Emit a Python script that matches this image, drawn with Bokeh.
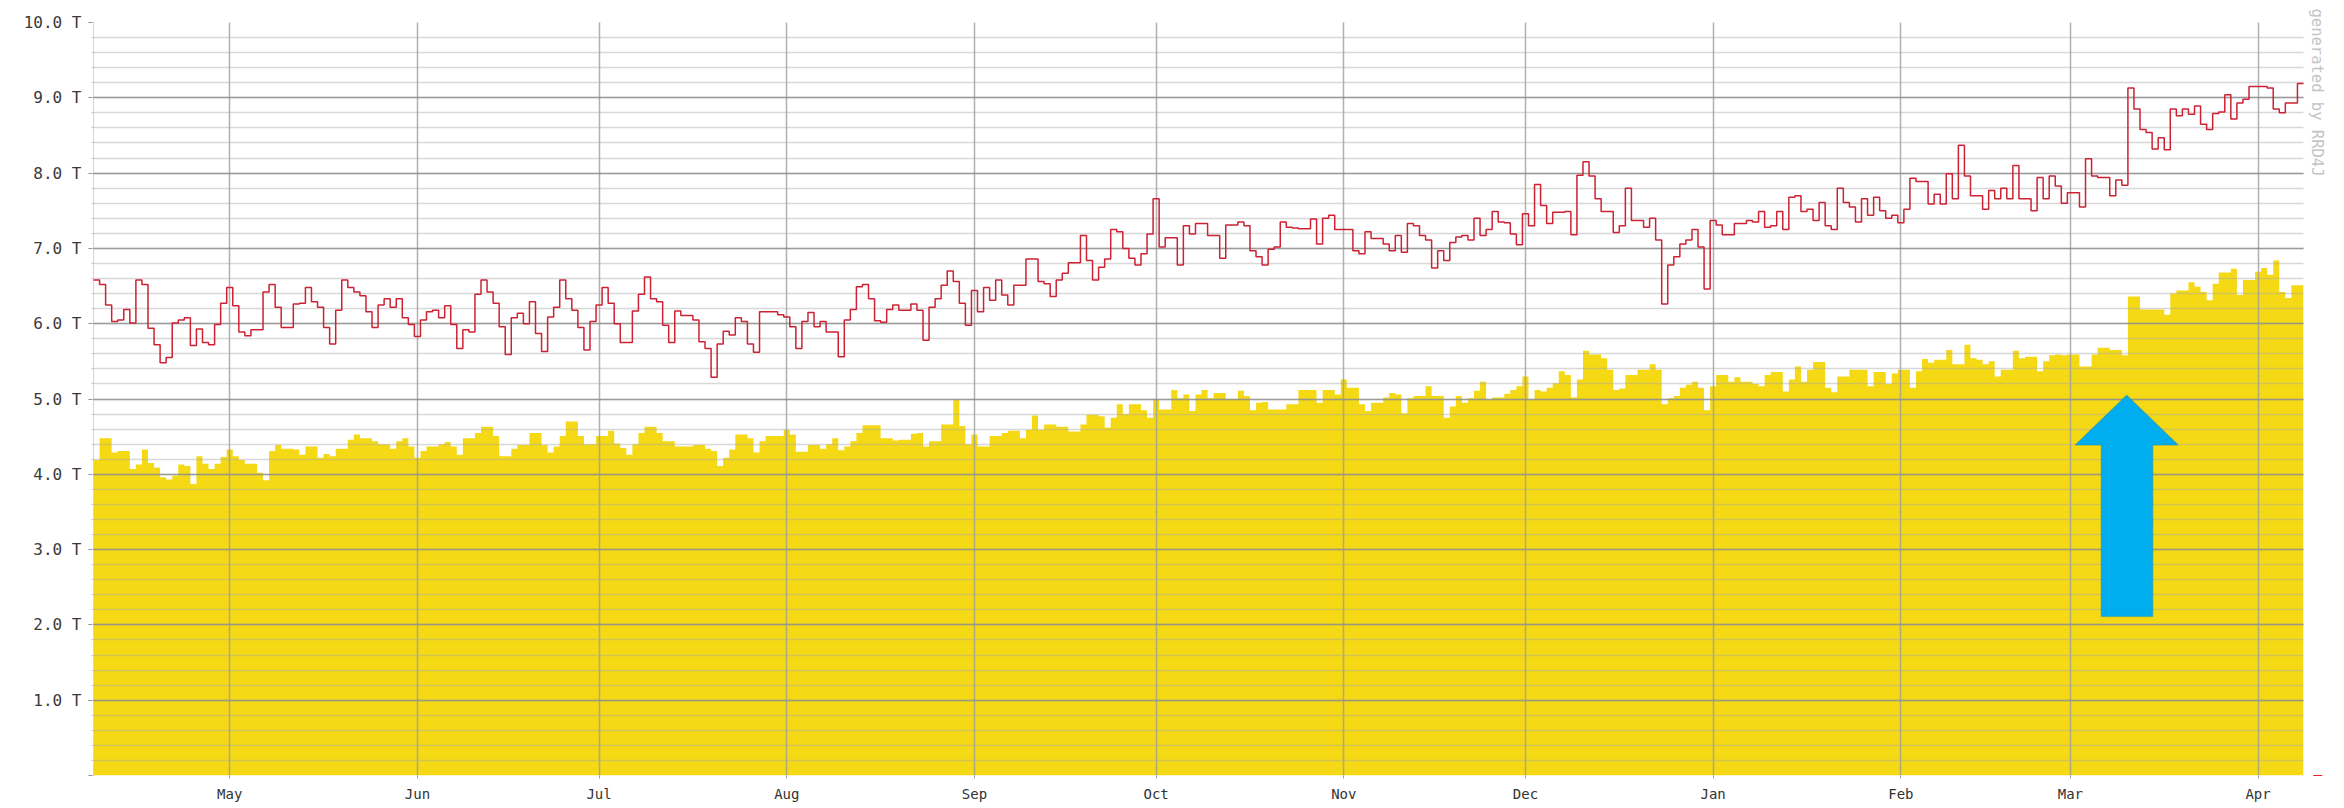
import pandas as pd
from bokeh.plotting import figure
from bokeh.models import (FixedTicker, MonthsTicker, DatetimeTickFormatter,
                          PolyAnnotation, Title, Arrow, NormalHead, Range1d)
from bokeh.embed import file_html
from bokeh.resources import INLINE

# ---------------- data (daily values, in T) ----------------
start_date = "2014-04-08 12:00"
n_days = 365

yellow_values = [
    4.19, 4.48, 4.48, 4.29, 4.31, 4.31, 4.07, 4.13, 4.33, 4.15,
    4.09, 3.96, 3.93, 3.98, 4.13, 4.11, 3.87, 4.24, 4.14, 4.07,
    4.14, 4.23, 4.33, 4.24, 4.19, 4.14, 4.14, 4.02, 3.92, 4.31,
    4.39, 4.34, 4.34, 4.33, 4.26, 4.37, 4.37, 4.22, 4.27, 4.24,
    4.34, 4.34, 4.46, 4.53, 4.48, 4.48, 4.44, 4.40, 4.40, 4.34,
    4.44, 4.48, 4.37, 4.22, 4.31, 4.37, 4.37, 4.40, 4.43, 4.37,
    4.26, 4.48,
    4.48, 4.55, 4.63, 4.63, 4.51, 4.24, 4.24, 4.34, 4.39, 4.39,
    4.55, 4.55, 4.39, 4.29, 4.37, 4.51, 4.70, 4.70, 4.51, 4.40,
    4.40, 4.51, 4.51, 4.58, 4.41, 4.35, 4.26, 4.40, 4.55, 4.63,
    4.63, 4.55, 4.44, 4.44, 4.37, 4.37, 4.37, 4.39, 4.39, 4.34,
    4.31, 4.11, 4.22, 4.33, 4.53, 4.53, 4.48, 4.29, 4.44, 4.51,
    4.51, 4.51, 4.59, 4.53, 4.30, 4.30, 4.39, 4.39, 4.34, 4.40,
    4.48, 4.32, 4.37, 4.44, 4.55, 4.65, 4.65, 4.65, 4.48, 4.48,
    4.45, 4.46, 4.46, 4.54, 4.55, 4.37, 4.44, 4.44, 4.66, 4.66,
    4.99, 4.64, 4.40, 4.53, 4.37, 4.37, 4.51, 4.51, 4.55, 4.58,
    4.58, 4.48, 4.59, 4.78, 4.59, 4.66, 4.66, 4.63, 4.63, 4.57,
    4.57, 4.66, 4.79, 4.79, 4.77, 4.62, 4.75, 4.93, 4.80, 4.93,
    4.93, 4.85, 4.75, 4.99, 4.86, 4.86, 5.12, 5.01, 5.06, 4.84,
    5.06, 5.12,
    5.01, 5.08, 5.08, 5.00, 5.00, 5.11, 5.04, 4.85, 4.95, 4.96,
    4.86, 4.86, 4.86, 4.93, 4.93, 5.12, 5.12, 5.12, 4.95, 5.12,
    5.12, 5.06, 5.26, 5.15, 5.15, 4.93, 4.84, 4.95, 4.95, 5.02,
    5.08, 5.06, 4.81, 5.01, 5.04, 5.04, 5.17, 5.04, 5.04, 4.75,
    4.90, 5.04, 4.95, 5.01, 5.11, 5.23, 4.99, 5.02, 5.02, 5.07,
    5.12, 5.17, 5.30, 4.99, 5.12, 5.10, 5.15, 5.21, 5.37, 5.32,
    5.02, 5.26,
    5.64, 5.59, 5.59, 5.54, 5.39, 5.12, 5.14, 5.32, 5.32, 5.39,
    5.39, 5.46, 5.39, 4.93, 5.01, 5.04, 5.15, 5.19, 5.23, 5.15,
    4.85, 5.17, 5.32, 5.32, 5.23, 5.29, 5.23, 5.23, 5.20, 5.17,
    5.32, 5.36, 5.36, 5.10, 5.26, 5.43, 5.23, 5.39, 5.49, 5.49,
    5.15, 5.09, 5.30, 5.30, 5.39, 5.39, 5.39, 5.17, 5.36, 5.36,
    5.20, 5.34, 5.39, 5.39, 5.15, 5.37, 5.53, 5.48, 5.52, 5.52,
    5.65, 5.46, 5.46, 5.72, 5.54, 5.52, 5.46, 5.50, 5.30,
    5.39, 5.39, 5.64, 5.54, 5.56, 5.56, 5.37, 5.50, 5.58, 5.59,
    5.58, 5.59, 5.59, 5.43, 5.43, 5.59, 5.68, 5.68, 5.65, 5.65,
    5.58, 6.36, 6.36, 6.19, 6.19, 6.19, 6.19, 6.12, 6.40, 6.44,
    6.44, 6.55, 6.49, 6.42, 6.31, 6.53, 6.68, 6.68, 6.73, 6.38,
    6.58, 6.58, 6.69, 6.74, 6.65, 6.84, 6.42, 6.34, 6.51, 6.51,
]

red_values = [
    6.58, 6.52, 6.25, 6.03, 6.05, 6.19, 6.01, 6.58, 6.52, 5.94,
    5.72, 5.48, 5.55, 6.01, 6.05, 6.08, 5.71, 5.93, 5.75, 5.72,
    5.99, 6.27, 6.48, 6.24, 5.89, 5.84, 5.92, 5.92, 6.42, 6.52,
    6.22, 5.95, 5.95, 6.26, 6.27, 6.48, 6.29, 6.22, 5.95, 5.73,
    6.18, 6.58, 6.48, 6.42, 6.37, 6.16, 5.95, 6.25, 6.33, 6.22,
    6.33, 6.08, 5.99, 5.83, 6.05, 6.16, 6.18, 6.08, 6.24, 5.99,
    5.67, 5.92,
    5.89, 6.39, 6.58, 6.42, 6.27, 5.96, 5.59, 6.08, 6.14, 6.00,
    6.29, 5.87, 5.63, 6.09, 6.22, 6.58, 6.33, 6.18, 5.95, 5.65,
    6.03, 6.25, 6.48, 6.27, 6.00, 5.75, 5.75, 6.17, 6.39, 6.62,
    6.33, 6.29, 5.98, 5.75, 6.17, 6.11, 6.11, 6.05, 5.76, 5.67,
    5.29, 5.73, 5.90, 5.85, 6.08, 6.03, 5.73, 5.62, 6.16, 6.16,
    6.16, 6.12, 6.09, 5.96, 5.67, 6.03, 6.15, 5.96, 6.03, 5.89,
    5.89, 5.56,
    6.05, 6.19, 6.49, 6.52, 6.33, 6.04, 6.02, 6.19, 6.25, 6.18,
    6.18, 6.26, 6.18, 5.78, 6.22, 6.33, 6.51, 6.70, 6.56, 6.27,
    5.98, 6.44, 6.16, 6.48, 6.31, 6.58, 6.38, 6.25, 6.51, 6.51,
    6.86, 6.86, 6.56, 6.53, 6.36, 6.58, 6.67, 6.81, 6.81, 7.17,
    6.84, 6.58, 6.75, 6.86, 7.25, 7.22, 7.00, 6.87, 6.78, 6.93,
    7.19, 7.66, 7.02, 7.14, 7.14, 6.78, 7.30, 7.19, 7.33, 7.33,
    7.17, 7.17, 6.87, 7.31, 7.31, 7.35, 7.30, 6.97, 6.89, 6.78,
    6.99, 7.02, 7.35, 7.28, 7.27, 7.26, 7.26, 7.39, 7.06, 7.40,
    7.44, 7.25, 7.25, 7.25, 6.97, 6.93, 7.22, 7.13, 7.13, 7.06,
    6.97, 7.17, 6.95, 7.33, 7.30, 7.17, 7.11, 6.74, 6.97, 6.84,
    7.08, 7.15, 7.17, 7.11, 7.40, 7.17, 7.25, 7.49, 7.35, 7.34,
    7.19, 7.05, 7.46, 7.30, 7.85, 7.57, 7.33, 7.48, 7.48, 7.49,
    7.18, 7.97,
    8.15, 7.96, 7.66, 7.49, 7.49, 7.21, 7.30, 7.80, 7.37, 7.37,
    7.28, 7.40, 7.11, 6.26, 6.78, 6.89, 7.06, 7.11, 7.25, 7.02,
    6.46, 7.37, 7.31, 7.18, 7.18, 7.33, 7.33, 7.37, 7.35, 7.49,
    7.28, 7.30, 7.49, 7.25, 7.68, 7.70, 7.49, 7.52, 7.37, 7.61,
    7.30, 7.25, 7.80, 7.61, 7.55, 7.35, 7.66, 7.44, 7.68, 7.50,
    7.40, 7.44, 7.34, 7.52, 7.93, 7.89, 7.89, 7.59, 7.72, 7.59,
    7.99,
    7.66, 8.37, 7.96, 7.70, 7.70, 7.52, 7.77, 7.66, 7.80, 7.66,
    8.10, 7.66, 7.66, 7.50, 7.94, 7.66, 7.96, 7.83, 7.60, 7.74,
    7.74, 7.55, 8.19, 7.96, 7.94, 7.94, 7.70, 7.91, 7.84, 9.13,
    8.85, 8.58, 8.54, 8.32, 8.47, 8.31, 8.85, 8.76, 8.85, 8.78,
    8.89, 8.65, 8.58, 8.79, 8.81, 9.04, 8.72, 8.93, 8.98, 9.15,
    9.15, 9.15, 9.13, 8.85, 8.80, 8.93, 8.93, 9.19,
]

y_ticks = list(range(0, 11))
y_tick_labels = [""] + [f"{v}.0 T" for v in range(1, 11)]
y_minor_ticks = [round(0.2 * k, 1) for k in range(0, 51)]

# ---------------- styling constants ----------------
YELLOW = "#F5D914"
RED = "#CC2233"
FONT = "DejaVu Sans Mono"

start = pd.Timestamp(start_date)
dates = list(pd.date_range(start, periods=n_days, freq="D"))
end = start + pd.Timedelta(days=n_days)
x_step = dates + [end]
y_yellow = yellow_values + [yellow_values[-1]]
y_red = red_values + [red_values[-1]]

p = figure(width=2340, height=804, x_axis_type="datetime",
           x_range=Range1d(start, end), y_range=Range1d(0, 10),
           output_backend="svg", toolbar_location=None,
           min_border_left=93, min_border_top=22, min_border_right=37, min_border_bottom=27)
p.outline_line_color = None
p.background_fill_color = "white"
p.border_fill_color = "white"

p.varea_step(x=x_step, y1=[0] * len(x_step), y2=y_yellow, step_mode="after",
             fill_color=YELLOW, fill_alpha=1.0)
p.step(x=x_step, y=y_red, mode="after", line_color=RED, line_width=1.5, level="overlay")

# grids drawn above the area (as RRD does)
months = MonthsTicker(months=list(range(12)))
yt = FixedTicker(ticks=y_ticks, minor_ticks=y_minor_ticks)
p.xgrid.ticker = months
p.xgrid.grid_line_color = "#9c9c9c"
p.xgrid.grid_line_alpha = 0.8
p.xgrid.grid_line_width = 1.5
p.xgrid.level = "annotation"
p.ygrid.ticker = yt
p.ygrid.grid_line_color = "#8c8c8c"
p.ygrid.grid_line_alpha = 0.8
p.ygrid.grid_line_width = 1.5
p.ygrid.minor_grid_line_color = "#a8a8a8"
p.ygrid.minor_grid_line_alpha = 0.45
p.ygrid.minor_grid_line_width = 1.5
p.ygrid.level = "annotation"

# x axis
p.xaxis.ticker = months
p.xaxis.formatter = DatetimeTickFormatter(months="%b", days="%b", years="%b", hours="%b",
                                          minutes="%b", seconds="%b", milliseconds="%b",
                                          microseconds="%b", minsec="%b", hourmin="%b")
p.xaxis.axis_line_color = None
p.xaxis.major_tick_in = 0
p.xaxis.major_tick_out = 3
p.xaxis.major_tick_line_color = "#a0a0a0"
p.xaxis.minor_tick_line_color = None
p.xaxis.major_label_text_font = FONT
p.xaxis.major_label_text_font_size = "14px"
p.xaxis.major_label_text_color = "#333333"
p.xaxis.major_label_standoff = 7

# y axis
p.yaxis.ticker = yt
p.yaxis.major_label_overrides = {t: lab for t, lab in zip(y_ticks, y_tick_labels)}
p.yaxis.axis_line_color = "#d4d4d4"
p.yaxis.major_tick_in = 0
p.yaxis.major_tick_out = 5
p.yaxis.minor_tick_in = 0
p.yaxis.minor_tick_out = 2
p.yaxis.major_tick_line_color = "#8c8c8c"
p.yaxis.minor_tick_line_color = "#c4c4c4"
p.yaxis.major_label_text_font = FONT
p.yaxis.major_label_text_font_size = "16px"
p.yaxis.major_label_text_color = "#3a3a3a"
p.yaxis.major_label_standoff = 7

p.add_layout(Title(text="generated by RRD4J", align="left", text_font=FONT,
                   text_font_size="15.5px", text_font_style="normal",
                   text_color="#c4c4c4", standoff=8, offset=-14), "right")

# red arrow at the end of the time axis
p.add_layout(Arrow(x_start=end, y_start=0, x_end=end + pd.Timedelta(days=3.1), y_end=0,
                   line_color="#ee2222", line_width=1.2,
                   end=NormalHead(size=9, fill_color="white", line_color="#ee2222", line_width=1.2)))

# blue highlight arrow (annotation)
ARROW_DAYS = [327.3, 335.8, 344.3, 340.1, 340.1, 331.6, 331.6]
ARROW_VALS = [4.39, 5.05, 4.39, 4.39, 2.11, 2.11, 4.39]
arrow_xs = [(start + pd.Timedelta(days=d)).value / 1e6 for d in ARROW_DAYS]
p.add_layout(PolyAnnotation(xs=arrow_xs, ys=ARROW_VALS, fill_color="#00AEEF", fill_alpha=1.0,
                            line_color="#0A78B4", line_width=1.5, level="overlay"))

open("out.html", "w").write(file_html(p, INLINE))
